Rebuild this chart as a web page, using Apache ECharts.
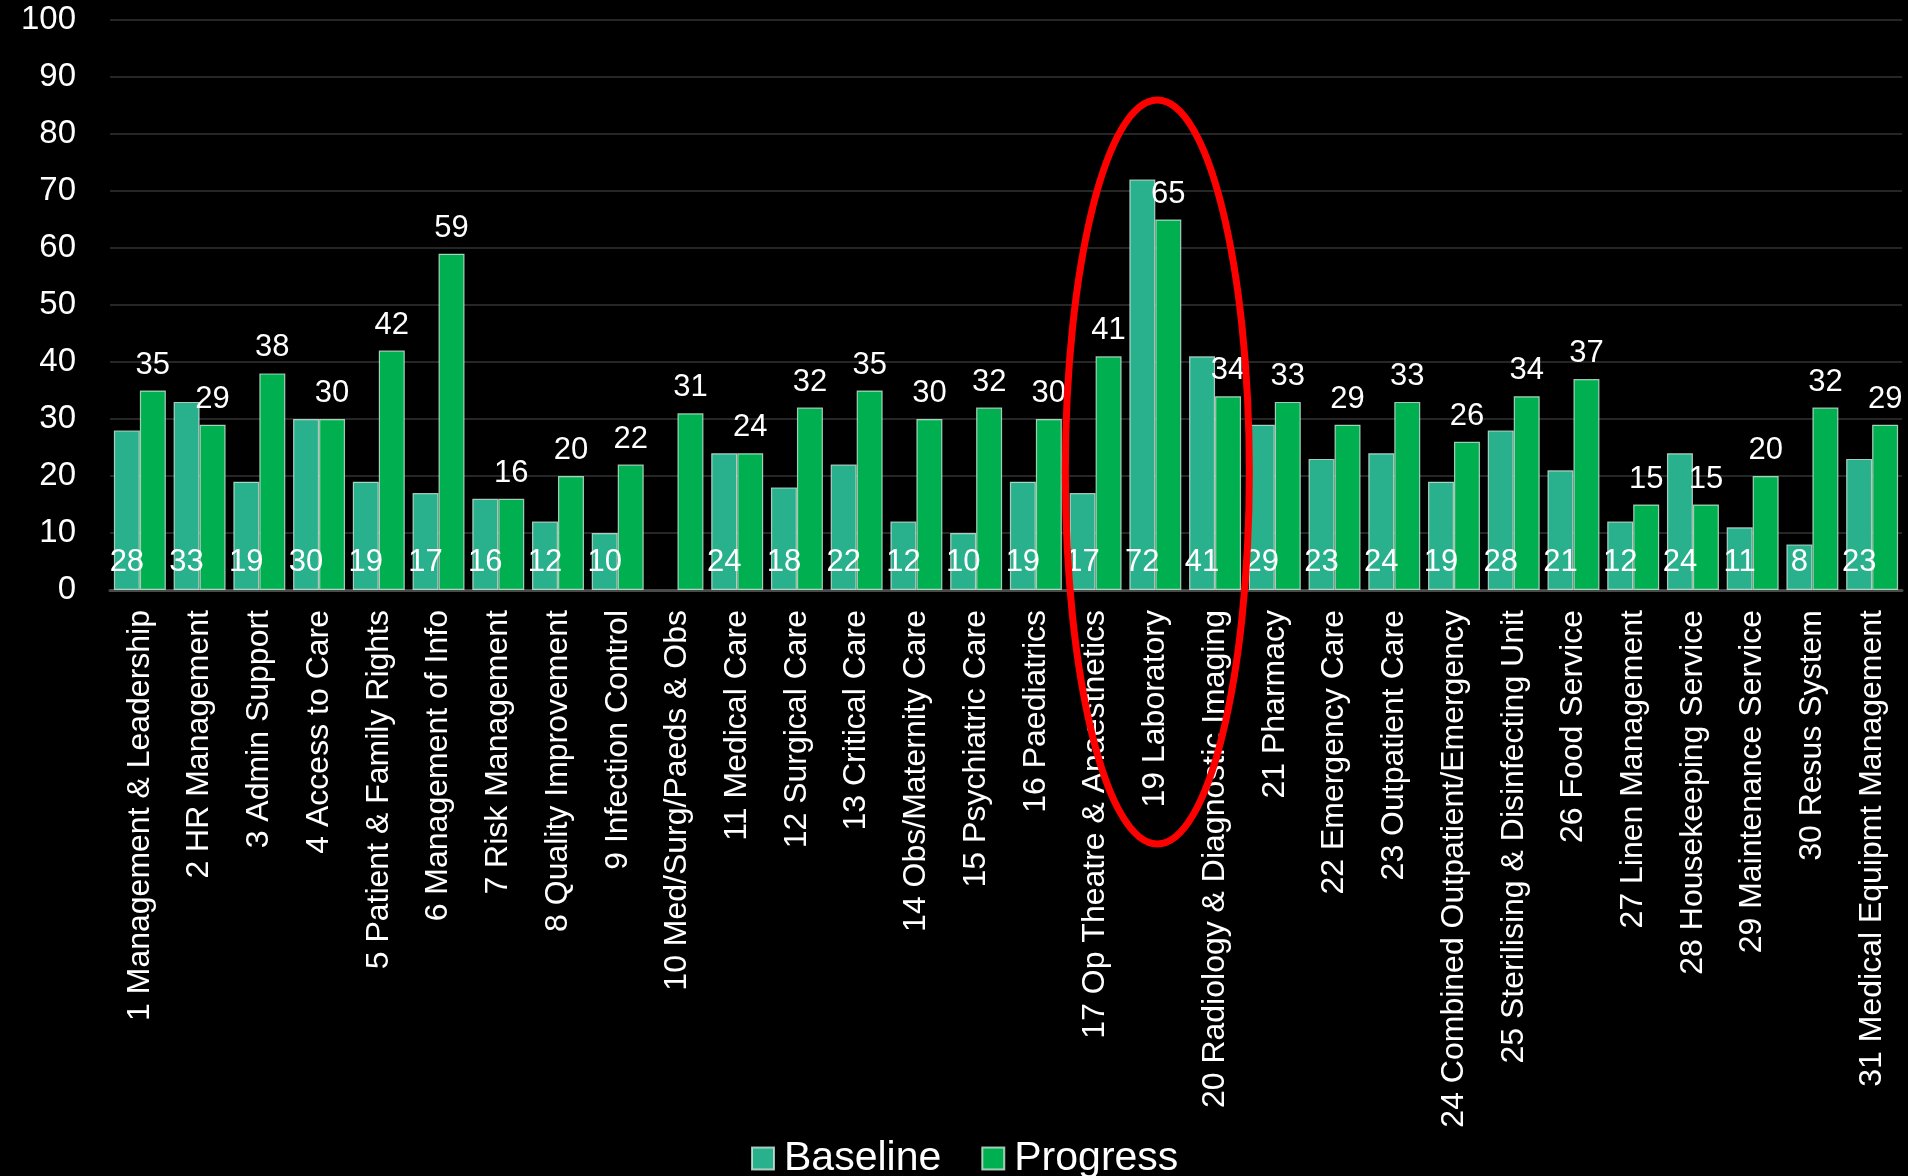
<!DOCTYPE html>
<html>
<head>
<meta charset="utf-8">
<script src="https://cdn.jsdelivr.net/npm/echarts@6/dist/echarts.min.js"></script>
<style>
  html, body { margin: 0; padding: 0; background: #000; }
  #chart { width: 1908px; height: 1176px; }
</style>
</head>
<body>
<div id="chart"></div>
<script>
// Service areas (no area 18 in this assessment)
const categories = [
  '1 Management & Leadership', '2 HR Management', '3 Admin Support', '4 Access to Care',
  '5 Patient & Family Rights', '6 Management of Info', '7 Risk Management',
  '8 Quality Improvement', '9 Infection Control', '10 Med/Surg/Paeds & Obs',
  '11 Medical Care', '12 Surgical Care', '13 Critical Care', '14 Obs/Maternity Care',
  '15 Psychiatric Care', '16 Paediatrics', '17 Op Theatre & Anaesthetics',
  '19 Laboratory', '20 Radiology & Diagnostic Imaging', '21 Pharmacy',
  '22 Emergency Care', '23 Outpatient Care', '24 Combined Outpatient/Emergency',
  '25 Sterilising & Disinfecting Unit', '26 Food Service', '27 Linen Management',
  '28 Housekeeping Service', '29 Maintenance Service', '30 Resus System',
  '31 Medical Equipmt Management'
];

const baseline = [28, 33, 19, 30, 19, 17, 16, 12, 10, null, 24, 18, 22, 12, 10, 19, 17,
                  72, 41, 29, 23, 24, 19, 28, 21, 12, 24, 11, 8, 23];
const progress = [35, 29, 38, 30, 42, 59, 16, 20, 22, 31, 24, 32, 35, 30, 32, 30, 41,
                  65, 34, 33, 29, 33, 26, 34, 37, 15, 15, 20, 32, 29];

const yTicks = { min: 0, max: 100, interval: 10 };
const highlighted = '19 Laboratory';

const FONT = '"Liberation Sans", Arial, Helvetica, sans-serif';

const chart = echarts.init(document.getElementById('chart'));

chart.setOption({
  backgroundColor: '#000000',
  animation: false,
  textStyle: { fontFamily: FONT },
  grid: { left: 110, right: 6, top: 20, bottom: 586, containLabel: false },
  legend: {
    data: ['Baseline', 'Progress'],
    left: 746,
    top: 1133,
    itemWidth: 22,
    itemHeight: 22,
    itemGap: 40,
    icon: 'rect',
    textStyle: { color: '#ffffff', fontSize: 41, fontFamily: FONT, padding: [0, 0, 0, 5] }
  },
  xAxis: {
    type: 'category',
    data: categories,
    axisTick: { show: false },
    axisLine: { show: true, lineStyle: { color: '#4a4a4a', width: 3 } },
    axisLabel: {
      interval: 0,
      rotate: 90,
      margin: 20,
      color: '#ffffff',
      fontSize: 32,
      fontFamily: FONT
    }
  },
  yAxis: {
    type: 'value',
    min: yTicks.min,
    max: yTicks.max,
    interval: yTicks.interval,
    axisLine: { show: false },
    axisTick: { show: false },
    splitLine: { lineStyle: { color: '#333333', width: 1.5 } },
    axisLabel: { color: '#ffffff', fontSize: 33, margin: 34, fontFamily: FONT }
  },
  series: [
    {
      name: 'Baseline',
      type: 'bar',
      data: baseline,
      barGap: '0%',
      barCategoryGap: '13%',
      itemStyle: { color: '#29b08c', borderColor: 'rgba(220,240,230,0.75)', borderWidth: 1.2 },
      label: {
        show: true,
        position: 'insideBottom',
        distance: 12,
        color: '#ffffff',
        fontSize: 31,
        fontFamily: FONT
      }
    },
    {
      name: 'Progress',
      type: 'bar',
      data: progress,
      barGap: '0%',
      barCategoryGap: '13%',
      itemStyle: { color: '#00b050', borderColor: 'rgba(220,240,230,0.75)', borderWidth: 1.2 },
      label: {
        show: true,
        position: 'top',
        distance: 10,
        color: '#ffffff',
        fontSize: 31,
        fontFamily: FONT
      }
    }
  ]
});

// Red ring around the laboratory results
const cx = chart.convertToPixel({ xAxisIndex: 0 }, highlighted);
const cy = chart.convertToPixel({ yAxisIndex: 0 }, 20.7);
chart.setOption({
  graphic: [{
    type: 'ellipse',
    z: 100,
    shape: { cx: cx + 2, cy: cy, rx: 92, ry: 372 },
    style: { fill: 'none', stroke: '#ff0000', lineWidth: 7 }
  }]
});
</script>
</body>
</html>
